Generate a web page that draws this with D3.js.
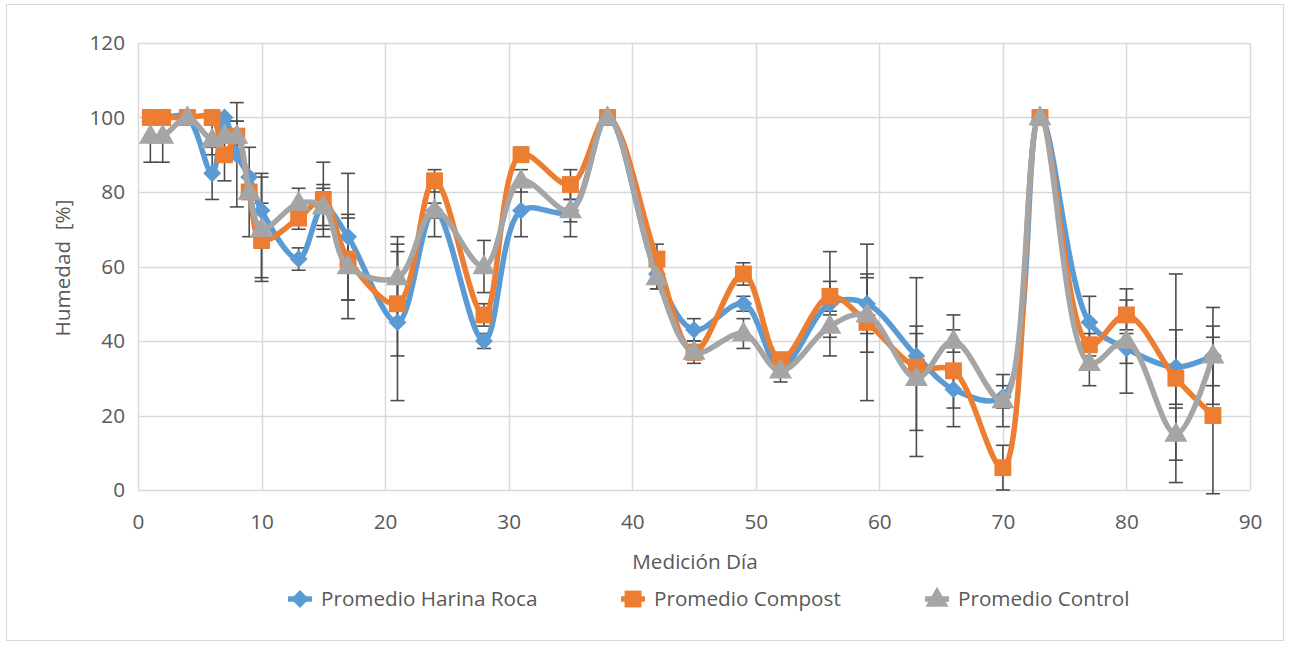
<!DOCTYPE html>
<html>
<head>
<meta charset="utf-8">
<script src="https://cdn.jsdelivr.net/npm/d3@7"></script>
<style>
  html, body { margin: 0; padding: 0; background: #ffffff; }
  svg { display: block; }
  text { font-family: "Open Sans", "Noto Sans", sans-serif; fill: #595959; }
</style>
</head>
<body>
<svg id="chart" width="1289" height="645"></svg>
<script>
// Measurement days (x values)
const days = [1, 2, 4, 6, 7, 8, 9, 10, 13, 15, 17, 21, 24, 28, 31, 35, 38, 42, 45, 49, 52, 56, 59, 63, 66, 70, 73, 77, 80, 84, 87];

// Average moisture [%] per treatment
const harina  = [100, 100, 100, 85, 100, 90, 84, 75, 62, 76, 68, 45, 75, 40, 75, 75, 100, 58, 43, 50, 33, 50, 50, 36, 27, 25, 100, 45, 38, 33, 36];
const compost = [100, 100, 100, 100, 90, 95, 80, 67, 73, 78, 62, 50, 83, 47, 90, 82, 100, 62, 37, 58, 35, 52, 45, 33, 32, 6, 100, 39, 47, 30, 20];
const control = [95, 95, 100, 94, 95, 95, 80, 70, 77, 76, 60, 57, 75, 60, 83, 75, 100, 57, 37, 42, 32, 44, 47, 30, 40, 24, 100, 34, 40, 15, 36];

// Standard deviation (error bar half-length)
const harinaErr  = [0, 0, 0, 7, 0, 14, 0, 10, 3, 5, 17, 21, 2, 2, 7, 3, 0, 4, 3, 2, 2, 14, 8, 6, 5, 3, 0, 7, 4, 10, 8];
const compostErr = [0, 0, 0, 0, 7, 4, 0, 10, 3, 10, 11, 14, 3, 3, 2, 4, 0, 4, 3, 3, 1, 4, 21, 24, 15, 6, 0, 3, 4, 28, 21];
const controlErr = [7, 7, 0, 4, 0, 4, 12, 14, 4, 6, 14, 11, 7, 7, 3, 7, 0, 3, 2, 4, 3, 3, 10, 14, 3, 7, 0, 6, 14, 7, 13];

// Axis ticks
const xTicks = [0, 10, 20, 30, 40, 50, 60, 70, 80, 90];
const yTicks = [0, 20, 40, 60, 80, 100, 120];

const seriesNames = ["Promedio Harina Roca", "Promedio Compost", "Promedio Control"];
const seriesColors = ["#5B9BD5", "#ED7D31", "#A5A5A5"];
const seriesMarkers = ["diamond", "square", "triangle"];

const series = [
  { name: seriesNames[0], values: harina,  errs: harinaErr,  color: seriesColors[0], marker: seriesMarkers[0] },
  { name: seriesNames[1], values: compost, errs: compostErr, color: seriesColors[1], marker: seriesMarkers[1] },
  { name: seriesNames[2], values: control, errs: controlErr, color: seriesColors[2], marker: seriesMarkers[2] }
];

const FONT = 20.7;
const svg = d3.select("#chart");

// Chart frame
svg.append("rect")
  .attr("x", 6.5).attr("y", 4.5)
  .attr("width", 1277).attr("height", 636)
  .attr("fill", "#ffffff")
  .attr("stroke", "#D9D9D9").attr("stroke-width", 1);

const plot = { left: 138, right: 1250, top: 43, bottom: 490 };

const x = d3.scaleLinear().domain([0, 90]).range([plot.left, plot.right]);
const y = d3.scaleLinear().domain([0, 120]).range([plot.bottom, plot.top]);

// Gridlines
const grid = svg.append("g");
grid.selectAll("line.h").data(yTicks).join("line")
  .attr("x1", plot.left).attr("x2", plot.right)
  .attr("y1", d => Math.round(y(d)) + 0.5).attr("y2", d => Math.round(y(d)) + 0.5)
  .attr("stroke", "#D9D9D9").attr("stroke-width", 1.5);
grid.selectAll("line.v").data(xTicks).join("line")
  .attr("y1", plot.top).attr("y2", plot.bottom)
  .attr("x1", d => Math.round(x(d)) + 0.5).attr("x2", d => Math.round(x(d)) + 0.5)
  .attr("stroke", "#D9D9D9").attr("stroke-width", 1.5);

// Axes (labels only)
const yAxis = svg.append("g")
  .attr("transform", `translate(${plot.left - 13},0)`)
  .call(d3.axisLeft(y).tickValues(yTicks).tickSize(0).tickPadding(0));
yAxis.select(".domain").remove();
yAxis.selectAll("text").attr("font-size", FONT).attr("fill", "#595959")
  .style("font-family", '"Open Sans", "Noto Sans", sans-serif');

const xAxis = svg.append("g")
  .attr("transform", `translate(0,${plot.bottom + 32})`)
  .call(d3.axisBottom(x).tickValues(xTicks).tickSize(0).tickPadding(0));
xAxis.select(".domain").remove();
xAxis.selectAll("text").attr("font-size", FONT).attr("fill", "#595959").attr("y", 0).attr("dy", "0.35em")
  .style("font-family", '"Open Sans", "Noto Sans", sans-serif');

// Axis titles
svg.append("text")
  .attr("x", 695).attr("y", 562)
  .attr("dy", "0.35em")
  .attr("text-anchor", "middle").attr("font-size", FONT)
  .text("Medición Día");

svg.append("text")
  .attr("transform", `translate(63,268) rotate(-90)`)
  .attr("dy", "0.35em")
  .attr("text-anchor", "middle").attr("font-size", FONT)
  .attr("xml:space", "preserve")
  .text("Humedad  [%]");

// Marker shapes
function markerPath(kind) {
  if (kind === "diamond") return d3.symbol(d3.symbolSquare, 160)();
  if (kind === "square") return d3.symbol(d3.symbolSquare, 285)();
  return d3.symbol(d3.symbolTriangle, 230)();
}
function markerTransform(kind, px, py) {
  if (kind === "diamond") return `translate(${px},${py}) rotate(45)`;
  if (kind === "triangle") return `translate(${px},${py + 1})`;
  return `translate(${px},${py})`;
}

// Error bars
const errG = svg.append("g");
series.forEach(s => {
  const rows = days.map((d, i) => ({ d, v: s.values[i], e: s.errs[i] })).filter(r => r.e > 0);
  const g = errG.append("g").attr("stroke", "#4D4D4D").attr("stroke-width", 1.6);
  g.selectAll("line.bar").data(rows).join("line")
    .attr("x1", r => x(r.d)).attr("x2", r => x(r.d))
    .attr("y1", r => y(r.v + r.e)).attr("y2", r => y(r.v - r.e));
  g.selectAll("line.top").data(rows).join("line")
    .attr("x1", r => x(r.d) - 7).attr("x2", r => x(r.d) + 7)
    .attr("y1", r => y(r.v + r.e)).attr("y2", r => y(r.v + r.e));
  g.selectAll("line.bot").data(rows).join("line")
    .attr("x1", r => x(r.d) - 7).attr("x2", r => x(r.d) + 7)
    .attr("y1", r => y(r.v - r.e)).attr("y2", r => y(r.v - r.e));
});

// Smoothed lines with markers
const line = d3.line()
  .x(r => x(r.d)).y(r => y(r.v))
  .curve(d3.curveCatmullRom.alpha(0.5));

series.forEach(s => {
  const rows = days.map((d, i) => ({ d, v: s.values[i] }));
  const g = svg.append("g");
  g.append("path").datum(rows)
    .attr("d", line)
    .attr("fill", "none")
    .attr("stroke", s.color).attr("stroke-width", 5.5)
    .attr("stroke-linejoin", "round");
  g.selectAll("path.m").data(rows).join("path")
    .attr("d", markerPath(s.marker))
    .attr("transform", r => markerTransform(s.marker, x(r.d), y(r.v)))
    .attr("fill", s.color);
});

// Legend
const legendItems = [
  { x: 300, s: series[0] },
  { x: 633, s: series[1] },
  { x: 937, s: series[2] }
];
const legendY = 599;
legendItems.forEach(item => {
  const g = svg.append("g");
  g.append("line")
    .attr("x1", item.x - 12).attr("x2", item.x + 12)
    .attr("y1", legendY).attr("y2", legendY)
    .attr("stroke", item.s.color).attr("stroke-width", 5.5);
  g.append("path")
    .attr("d", markerPath(item.s.marker))
    .attr("transform", markerTransform(item.s.marker, item.x, legendY))
    .attr("fill", item.s.color);
  g.append("text")
    .attr("x", item.x + 21).attr("y", legendY)
    .attr("dy", "0.35em").attr("font-size", FONT)
    .text(item.s.name);
});
</script>
</body>
</html>
